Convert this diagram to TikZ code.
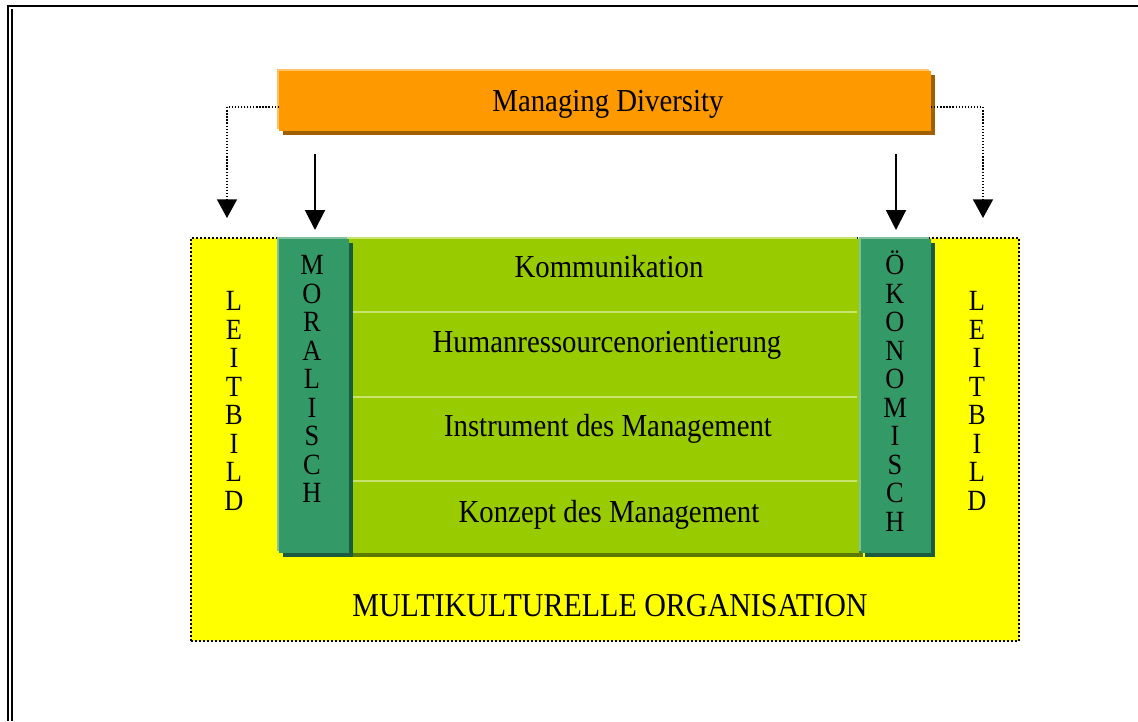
\documentclass[tikz,border=0pt]{standalone}
\usepackage{fontspec}
\setmainfont{Liberation Serif}[FakeStretch=0.9]
\usetikzlibrary{arrows.meta,shadows}

\definecolor{orangeMain}{RGB}{255,153,0}
\definecolor{orangeLight}{RGB}{255,194,102}
\definecolor{orangeDark}{RGB}{160,96,0}
\definecolor{gruenMain}{RGB}{51,153,102}
\definecolor{gruenLight}{RGB}{128,191,160}
\definecolor{gruenDark}{RGB}{26,92,61}
\definecolor{limeMain}{RGB}{153,204,0}
\definecolor{limeLight}{RGB}{200,228,110}
\definecolor{limeDark}{RGB}{92,122,0}
\definecolor{gelb}{RGB}{255,255,0}

\tikzset{every picture/.style={line width=0.75pt}}
\tikzset{
  kasten/.style={rectangle, inner sep=0pt, outer sep=0pt, draw=none},
  bevel/.style 2 args={general shadow={fill=#1, shadow xshift=-1.5pt, shadow yshift=1.5pt},
                       general shadow={fill=#2, shadow xshift=3pt, shadow yshift=-3pt}},
  orangekasten/.style={kasten, fill=orangeMain, bevel={orangeLight}{orangeDark},
                       minimum width=489pt, minimum height=45pt},
  saeule/.style={kasten, fill=gruenMain, bevel={gruenLight}{gruenDark},
                 minimum width=52.5pt, minimum height=235.5pt},
  mittelblock/.style={kasten, fill=limeMain, bevel={limeLight}{limeDark},
                      minimum width=382.5pt, minimum height=235.5pt},
  orgkasten/.style={kasten, fill=gelb, draw=black, line width=1.5pt, dash pattern=on 1.5pt off 1.5pt,
                    minimum width=621pt, minimum height=302.25pt},
  grosstext/.style={font=\fontsize{24}{28}\selectfont, inner sep=0pt},
  versaltext/.style={font=\fontsize{25}{29}\selectfont, inner sep=0pt},
  buchstaben/.style={font=\fontsize{22}{21.4}\selectfont, align=center, inner sep=0pt},
  trenner/.style={draw=limeLight, line width=1.5pt},
  pfeil/.style={line width=1.5pt, -{Triangle[width=15pt,length=15pt]}, shorten >=6.75pt},
  punktpfeil/.style={line width=1.2pt, dash pattern=on 1pt off 1.3pt,
                     -{Triangle[width=15pt,length=14pt]}},
}

\begin{document}
\begin{tikzpicture}[x=0.75pt,y=0.75pt,yscale=-1,xscale=1]
\useasboundingbox (0,0) rectangle (1138,721);

%Frame
\draw [line width=1.5pt] (7.5,6) -- (1138,6) ;
\draw [line width=1.5pt] (8.3,5) -- (8.3,721) ;
\draw [line width=1.5pt] (12,9) -- (12,721) ;

%Yellow area
\node [orgkasten] (org) at (605,439.5) {};

%Green blocks
\node [mittelblock] (mitte) at (604,396) {};
\foreach \ylinie in {311.5,396.5,481} {
  \draw [trenner] (351,\ylinie) -- (857,\ylinie) ;
}
\node [saeule] (moral) at (314,396) {};
\node [saeule] (oekon) at (895.5,396) {};

%Managing Diversity
\node [orangekasten] (managing) at (605,101) {};
\node [grosstext] (managingText) at (608,104) {Managing Diversity};

%Arrows
\coordinate (startL) at (315,154);
\coordinate (startR) at (896,154);
\draw [pfeil] (startL) -- (startL |- moral.north) ;
\draw [pfeil] (startR) -- (startR |- oekon.north) ;

\coordinate (punktL) at (227,218);
\coordinate (punktR) at (983,218);
\draw [punktpfeil] (managing.west |- 0,107) -| (punktL) ;
\draw [punktpfeil] (managing.east |- 0,107) -| (punktR) ;

% Text Node
\node [grosstext] (komm) at (609,267) {Kommunikation};
\node [grosstext] (human) at (607,345) {Humanressourcenorientierung};
\node [grosstext] (instr) at (608,429) {Instrument des Management};
\node [grosstext] (konz) at (609,515) {Konzept des Management};
\node [versaltext] (orgText) at (610,606) {MULTIKULTURELLE ORGANISATION};

\node [buchstaben] (moralText) at (312,379) {M\\O\\R\\A\\L\\I\\S\\C\\H};
\node [buchstaben] (oekonText) at (895,391) {Ö\\K\\O\\N\\O\\M\\I\\S\\C\\H};
\node [buchstaben] (leitL) at (234,401) {L\\E\\I\\T\\B\\I\\L\\D};
\node [buchstaben] (leitR) at (977,401) {L\\E\\I\\T\\B\\I\\L\\D};

\end{tikzpicture}
\end{document}
